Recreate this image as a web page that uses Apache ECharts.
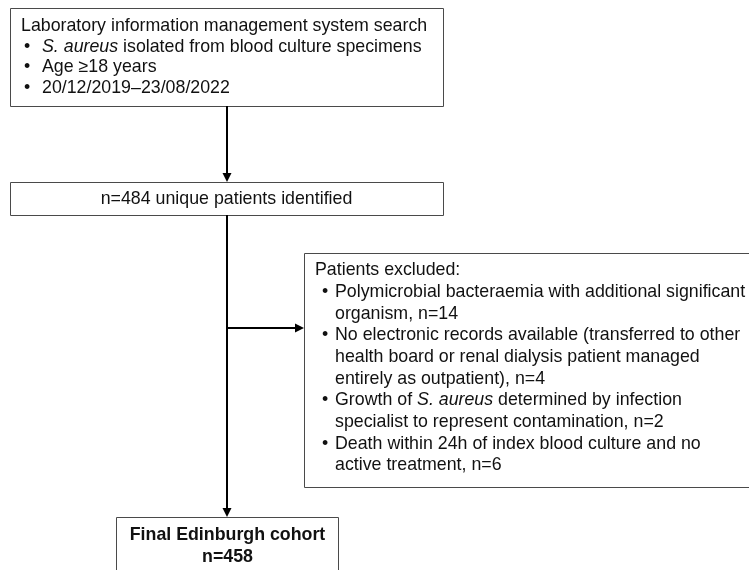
<!DOCTYPE html>
<html><head><meta charset="utf-8">
<script src="https://cdn.jsdelivr.net/npm/echarts@6/dist/echarts.min.js"></script>
<style>html,body{margin:0;padding:0;background:#fff}#c{width:749px;height:570px}</style>
</head><body><div id="c"></div>
<script>
// ---- content ----
const searchHeader = 'Laboratory information management system search';
const searchCriteria = ['{i|S. aureus} isolated from blood culture specimens', 'Age \u226518 years', '20/12/2019\u201323/08/2022'];
const identifiedCount = 484;
const identifiedLabel = 'unique patients identified';
const exclusionHeader = 'Patients excluded:';
const exclusionReasons = [
  ['Polymicrobial bacteraemia with additional significant', 'organism'],
  ['No electronic records available (transferred to other', 'health board or renal dialysis patient managed', 'entirely as outpatient)'],
  ['Growth of {i|S. aureus} determined by infection', 'specialist to represent contamination'],
  ['Death within 24h of index blood culture and no', 'active treatment']
];
const excludedCounts = [14, 4, 2, 6];
const finalLabel = 'Final Edinburgh cohort';
const finalCount = 458;

// ---- layout (pixel space of the 749x570 canvas) ----
const FONT = 'Liberation Sans';
const FS = 17.8;
const layout = {
  boxes: [
    {x0: 10, y0: 8, x1: 443, y1: 106},
    {x0: 10, y0: 182, x1: 443, y1: 215},
    {x0: 304, y0: 253, x1: 752, y1: 487},
    {x0: 116, y0: 517, x1: 338, y1: 576}
  ],
  connectors: [
    {from: [227, 106], to: [227, 182]},
    {from: [227, 215], to: [227, 517]},
    {from: [227, 328], to: [304, 328]}
  ]
};

// Build text lines per box
function boxLines(i) {
  if (i === 0) {
    const out = [{t: searchHeader, x: 21, y: 26.5}];
    searchCriteria.forEach((s, k) => {
      const y = 47 + k * 20.4;
      out.push({t: '\u2022', x: 24, y: y});
      out.push({t: s, x: 42, y: y});
    });
    return out;
  }
  if (i === 1) return [{t: 'n=' + identifiedCount + ' ' + identifiedLabel, x: 226.5, y: 199, align: 'center'}];
  if (i === 2) {
    let y = 270.5;
    const out = [{t: exclusionHeader, x: 315, y: y}];
    exclusionReasons.forEach((lines, k) => {
      lines.forEach((s, j) => {
        y += 21.65;
        if (j === 0) out.push({t: '\u2022', x: 322, y: y});
        const txt = j === lines.length - 1 ? s + ', n=' + excludedCounts[k] : s;
        out.push({t: txt, x: 335, y: y});
      });
    });
    return out;
  }
  return [
    {t: finalLabel, x: 227.5, y: 535, align: 'center', bold: true},
    {t: 'n=' + finalCount, x: 227.5, y: 557, align: 'center', bold: true}
  ];
}

const chart = echarts.init(document.getElementById('c'), null, {renderer: 'canvas'});
chart.setOption({
  animation: false,
  backgroundColor: '#ffffff',
  grid: {left: 0, right: 0, top: 0, bottom: 0},
  xAxis: {type: 'value', min: 0, max: 749, show: false},
  yAxis: {type: 'value', min: 0, max: 570, inverse: true, show: false},
  series: [
    {
      type: 'custom',
      coordinateSystem: 'cartesian2d',
      clip: false,
      data: layout.boxes.map((b, i) => [i]),
      renderItem: function (params, api) {
        const i = api.value(0);
        const b = layout.boxes[i];
        const p0 = api.coord([b.x0, b.y0]);
        const p1 = api.coord([b.x1, b.y1]);
        const children = [{
          type: 'rect',
          shape: {x: Math.round(p0[0]) + 0.5, y: Math.round(p0[1]) + 0.5, width: Math.round(p1[0] - p0[0]), height: Math.round(p1[1] - p0[1])},
          style: {fill: '#ffffff', stroke: '#4a4a4a', lineWidth: 1}
        }];
        boxLines(i).forEach(l => {
          const p = api.coord([l.x, l.y]);
          children.push({
            type: 'text', x: p[0], y: p[1],
            style: {
              text: l.t, fontFamily: FONT, fontSize: FS, fontWeight: l.bold ? 'bold' : 'normal',
              fill: '#111111', align: l.align || 'left', verticalAlign: 'middle',
              rich: {i: {fontStyle: 'italic', fontFamily: FONT, fontSize: FS, fill: '#111111'}}
            }
          });
        });
        return {type: 'group', children: children};
      }
    },
    {
      type: 'custom',
      coordinateSystem: 'cartesian2d',
      clip: false,
      data: layout.connectors.map((c, i) => [i]),
      renderItem: function (params, api) {
        const c = layout.connectors[api.value(0)];
        const a = api.coord(c.from), b = api.coord(c.to);
        const dx = b[0] - a[0], dy = b[1] - a[1];
        const len = Math.sqrt(dx * dx + dy * dy);
        const ux = dx / len, uy = dy / len;
        const hl = 9, hw = 4.5;
        const base = [b[0] - ux * hl, b[1] - uy * hl];
        return {
          type: 'group',
          children: [
            {type: 'line', shape: {x1: a[0], y1: a[1], x2: base[0], y2: base[1]}, style: {stroke: '#000', lineWidth: 2}},
            {type: 'polygon', shape: {points: [[b[0], b[1]], [base[0] - uy * hw, base[1] + ux * hw], [base[0] + uy * hw, base[1] - ux * hw]]}, style: {fill: '#000'}}
          ]
        };
      }
    }
  ]
});
</script>
</body></html>
